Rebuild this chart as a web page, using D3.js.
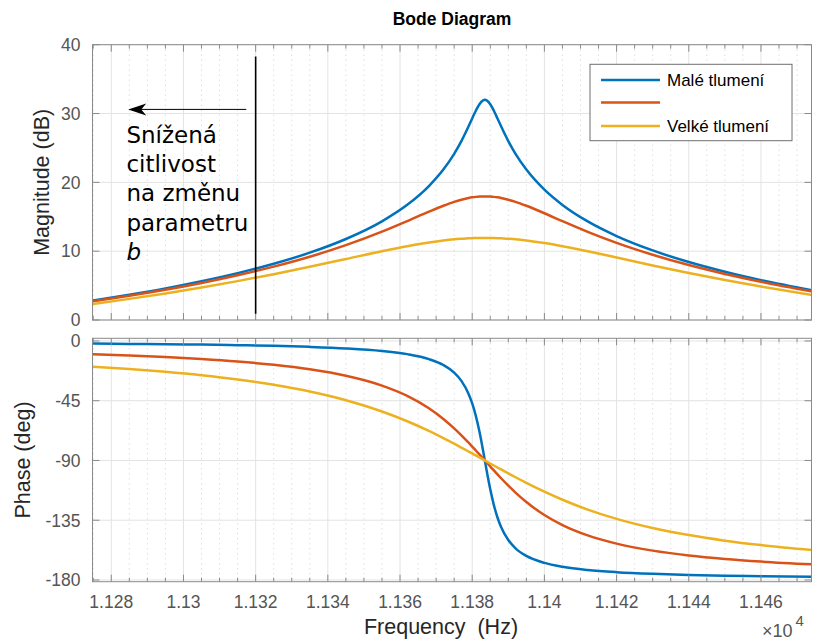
<!DOCTYPE html>
<html>
<head>
<meta charset="utf-8">
<script src="https://cdn.jsdelivr.net/npm/d3@7"></script>
<style>
  html, body { margin: 0; padding: 0; background: #fff; }
  svg { display: block; font-family: "Liberation Sans", Arial, Helvetica, sans-serif; }
</style>
</head>
<body>
<svg id="chart" width="813" height="643"></svg>
<script>
// ---------------- data ----------------
const freqs = [11270, 11275, 11285, 11295, 11305, 11315, 11325, 11335, 11345, 11355,
  11362, 11368, 11372, 11375, 11377, 11379, 11380, 11381, 11382, 11383,
  11383.5, 11384, 11385, 11386, 11387, 11388, 11390, 11392, 11395, 11400,
  11405, 11412, 11420, 11430, 11440, 11450, 11460, 11475];

const magBlue = [2.44, 2.83, 3.67, 4.59, 5.63, 6.80, 8.17, 9.78, 11.77, 14.34,
  16.73, 19.46, 21.85, 24.14, 25.99, 28.14, 29.29, 30.41, 31.36, 31.92,
  32.00, 31.92, 31.36, 30.41, 29.29, 28.14, 25.99, 24.14, 21.85, 18.93,
  16.72, 14.32, 12.20, 10.11, 8.42, 7.01, 5.79, 4.23];
const magRed = [2.33, 2.71, 3.52, 4.40, 5.39, 6.50, 7.75, 9.19, 10.87, 12.83,
  14.37, 15.74, 16.60, 17.17, 17.48, 17.73, 17.82, 17.89, 17.94, 17.96,
  17.96, 17.96, 17.94, 17.89, 17.82, 17.73, 17.48, 17.17, 16.60, 15.51,
  14.36, 12.81, 11.21, 9.48, 7.98, 6.69, 5.55, 4.06];
const magYellow = [1.98, 2.33, 3.07, 3.86, 4.72, 5.65, 6.66, 7.73, 8.86, 9.99,
  10.72, 11.26, 11.55, 11.72, 11.80, 11.87, 11.89, 11.91, 11.92, 11.93,
  11.93, 11.93, 11.92, 11.91, 11.89, 11.87, 11.80, 11.72, 11.55, 11.18,
  10.72, 9.98, 9.08, 7.93, 6.84, 5.81, 4.86, 3.56];

const phBlue = [-1.91, -2.00, -2.20, -2.44, -2.75, -3.15, -3.69, -4.45, -5.59, -7.53,
  -9.93, -13.65, -18.12, -23.88, -30.07, -39.90, -47.06, -56.41, -68.26, -82.43,
  -90, -97.57, -111.75, -123.60, -132.94, -140.10, -149.94, -156.13, -161.89, -167.16,
  -170.08, -172.49, -174.12, -175.38, -176.20, -176.77, -177.19, -177.65];
const phRed = [-9.51, -9.94, -10.92, -12.12, -13.60, -15.49, -17.97, -21.36, -26.22, -33.62,
  -41.38, -50.70, -58.73, -65.82, -71.05, -76.63, -79.52, -82.48, -85.47, -88.49,
  -90, -91.51, -94.53, -97.53, -100.48, -103.38, -108.96, -114.19, -121.30, -131.11,
  -138.67, -146.45, -152.63, -157.90, -161.52, -164.16, -166.15, -168.36];
const phYellow = [-18.56, -19.34, -21.13, -23.26, -25.85, -29.03, -33.01, -38.07, -44.61, -53.10,
  -60.46, -67.78, -73.13, -77.36, -80.27, -83.23, -84.72, -86.23, -87.73, -89.24,
  -90, -90.76, -92.27, -93.77, -95.28, -96.77, -99.73, -102.64, -106.88, -113.54,
  -119.58, -126.97, -133.96, -140.87, -146.20, -150.38, -153.72, -157.58];

const seriesNames = ["Malé tlumení", "", "Velké tlumení"];
const seriesColors = ["#0072BD", "#D95319", "#EDB120"];

const xMajorTicks = [11280, 11300, 11320, 11340, 11360, 11380, 11400, 11420, 11440, 11460];
const xTickLabels = ["1.128", "1.13", "1.132", "1.134", "1.136", "1.138", "1.14", "1.142", "1.144", "1.146"];
const magTicks = [0, 10, 20, 30, 40];
const magTickLabels = ["0", "10", "20", "30", "40"];
const phTicks = [0, -45, -90, -135, -180];
const phTickLabels = ["0", "-45", "-90", "-135", "-180"];

const annotLines = ["Snížená", "citlivost", "na změnu", "parametru"];
const annotItalic = "b";

// ---------------- layout ----------------
const svg = d3.select("#chart");
const L = 92.5, R = 811.5;
const magTop = 44.7, magBot = 320;
const phTop = 338.3, phBot = 581.7;

const x = d3.scaleLinear().domain([11274.8, 11474]).range([L, R]);
const xMinor = d3.range(11275, 11475, 5);
const yMag = d3.scaleLinear().domain([0, 40]).range([magBot, magTop]);
const yPh = d3.scaleLinear().domain([-181.3, 2.0]).range([phBot, phTop]);

const axisGray = "#8a8a8a";
const tickText = "#555555";
const labelCol = "#262626";

const defs = svg.append("defs");
defs.append("clipPath").attr("id", "clipMag").append("rect")
  .attr("x", L).attr("y", magTop).attr("width", R - L).attr("height", magBot - magTop);
defs.append("clipPath").attr("id", "clipPh").append("rect")
  .attr("x", L).attr("y", phTop).attr("width", R - L).attr("height", phBot - phTop);

function panel(yScale, top, bot, yTicks, yLabels, clipId, series, showXLabels) {
  const g = svg.append("g");
  g.append("rect").attr("x", L).attr("y", top).attr("width", R - L).attr("height", bot - top)
    .attr("fill", "#fff");
  // minor vertical grid (dotted)
  g.append("g").selectAll("line").data(xMinor.filter(v => !xMajorTicks.includes(v)))
    .join("line")
    .attr("x1", d => x(d)).attr("x2", d => x(d)).attr("y1", top).attr("y2", bot)
    .attr("stroke", "#cfcfcf").attr("stroke-width", 1).attr("stroke-dasharray", "1,4");
  // major vertical grid
  g.append("g").selectAll("line").data(xMajorTicks).join("line")
    .attr("x1", d => x(d)).attr("x2", d => x(d)).attr("y1", top).attr("y2", bot)
    .attr("stroke", "#e3e3e3").attr("stroke-width", 1);
  // major horizontal grid
  g.append("g").selectAll("line").data(yTicks).join("line")
    .attr("x1", L).attr("x2", R).attr("y1", d => yScale(d)).attr("y2", d => yScale(d))
    .attr("stroke", "#e3e3e3").attr("stroke-width", 1);

  // curves
  const line = d3.line().curve(d3.curveMonotoneX);
  const cg = g.append("g").attr("clip-path", `url(#${clipId})`);
  series.forEach((vals, i) => {
    cg.append("path")
      .attr("d", line(freqs.map((f, k) => [x(f), yScale(vals[k])])))
      .attr("fill", "none").attr("stroke", seriesColors[i]).attr("stroke-width", 2.5)
      .attr("stroke-linejoin", "round");
  });

  // box
  g.append("rect").attr("x", L).attr("y", top).attr("width", R - L).attr("height", bot - top)
    .attr("fill", "none").attr("stroke", axisGray).attr("stroke-width", 1);

  // x ticks (inward) top and bottom
  const tk = g.append("g").attr("stroke", axisGray).attr("stroke-width", 1);
  xMinor.forEach(v => {
    const major = xMajorTicks.includes(v);
    const len = major ? 7 : 4;
    tk.append("line").attr("x1", x(v)).attr("x2", x(v)).attr("y1", bot).attr("y2", bot - len);
    tk.append("line").attr("x1", x(v)).attr("x2", x(v)).attr("y1", top).attr("y2", top + len);
  });
  // y ticks (inward) left and right
  yTicks.forEach(v => {
    tk.append("line").attr("x1", L).attr("x2", L + 7).attr("y1", yScale(v)).attr("y2", yScale(v));
    tk.append("line").attr("x1", R).attr("x2", R - 7).attr("y1", yScale(v)).attr("y2", yScale(v));
  });
  // y tick labels
  g.append("g").selectAll("text").data(yTicks).join("text")
    .attr("x", L - 12).attr("y", d => yScale(d)).attr("dy", "0.36em")
    .attr("text-anchor", "end").attr("font-size", 17.5).attr("fill", tickText)
    .text((d, i) => yLabels[i]);
  if (showXLabels) {
    g.append("g").selectAll("text").data(xMajorTicks).join("text")
      .attr("x", d => x(d)).attr("y", bot + 26)
      .attr("text-anchor", "middle").attr("font-size", 17.5).attr("fill", tickText)
      .text((d, i) => xTickLabels[i]);
  }
  return g;
}

panel(yMag, magTop, magBot, magTicks, magTickLabels, "clipMag", [magBlue, magRed, magYellow], false);
panel(yPh, phTop, phBot, phTicks, phTickLabels, "clipPh", [phBlue, phRed, phYellow], true);

// title and labels
svg.append("text").attr("x", (L + R) / 2).attr("y", 25).attr("text-anchor", "middle")
  .attr("font-size", 17.5).attr("font-weight", "bold").attr("fill", "#000").text("Bode Diagram");
svg.append("text").attr("transform", `translate(49,${(magTop + magBot) / 2}) rotate(-90)`)
  .attr("text-anchor", "middle").attr("font-size", 21.5).attr("fill", labelCol).text("Magnitude (dB)");
svg.append("text").attr("transform", `translate(30,${(phTop + phBot) / 2}) rotate(-90)`)
  .attr("text-anchor", "middle").attr("font-size", 21.5).attr("fill", labelCol).text("Phase (deg)");
svg.append("text").attr("x", 441).attr("y", 634).attr("text-anchor", "middle")
  .attr("font-size", 21.5).attr("fill", labelCol).style("white-space", "pre").text("Frequency  (Hz)");
const ex = svg.append("text").attr("x", 762).attr("y", 637).attr("font-size", 18).attr("fill", tickText);
ex.append("tspan").text("×10");
ex.append("tspan").attr("font-size", 15).attr("dy", -11).attr("dx", 3).text("4");

// legend
const lg = svg.append("g");
lg.append("rect").attr("x", 590).attr("y", 64.3).attr("width", 202).attr("height", 76.4)
  .attr("fill", "#fff").attr("stroke", "#6e6e6e").attr("stroke-width", 1);
const legY = [80, 102.5, 126];
seriesNames.forEach((n, i) => {
  lg.append("line").attr("x1", 601).attr("x2", 660).attr("y1", legY[i]).attr("y2", legY[i])
    .attr("stroke", seriesColors[i]).attr("stroke-width", 2.5);
  lg.append("text").attr("x", 667).attr("y", legY[i]).attr("dy", "0.36em")
    .attr("font-size", 17).attr("fill", "#000").text(n);
});

// annotation: vertical marker, arrow and text (positions in data coordinates)
const markF = 11320;
svg.append("line").attr("x1", x(markF)).attr("x2", x(markF))
  .attr("y1", yMag(38.3)).attr("y2", yMag(0.9))
  .attr("stroke", "#000").attr("stroke-width", 1.6);
const ay = yMag(30.6);
const ax0 = x(11317.4), ax1 = x(11284.7);
svg.append("line").attr("x1", ax0).attr("x2", ax1 + 12).attr("y1", ay).attr("y2", ay)
  .attr("stroke", "#000").attr("stroke-width", 1);
svg.append("path")
  .attr("d", `M${ax1},${ay} L${ax1 + 18},${ay - 6} L${ax1 + 13},${ay} L${ax1 + 18},${ay + 6} Z`)
  .attr("fill", "#000");
const at = svg.append("text").style("font-family", "'DejaVu Sans', sans-serif")
  .attr("font-size", 23).attr("fill", "#000");
const tx = x(11284.2), ty0 = yMag(25.72), lh = 29.2;
annotLines.forEach((t, i) => {
  at.append("tspan").attr("x", tx).attr("y", ty0 + i * lh).text(t);
});
at.append("tspan").attr("x", tx).attr("y", ty0 + annotLines.length * lh)
  .attr("font-style", "italic").text(annotItalic);
</script>
</body>
</html>
